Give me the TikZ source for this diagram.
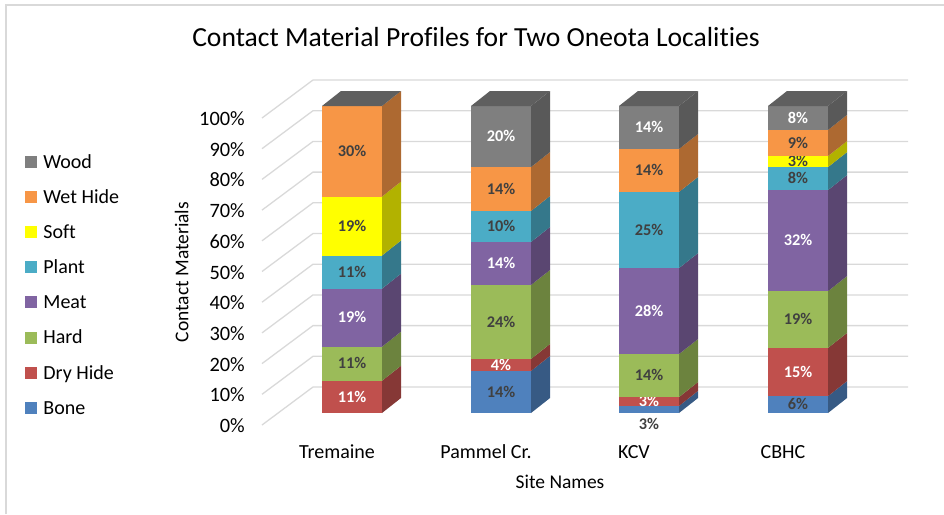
\documentclass[tikz,border=0pt]{standalone}
\usepackage{fontspec}
\setmainfont[Ligatures=NoCommon]{Carlito}
\usetikzlibrary{positioning}

\definecolor{bone}{HTML}{4F81BD}
\definecolor{dryhide}{HTML}{C0504D}
\definecolor{hard}{HTML}{9BBB59}
\definecolor{meat}{HTML}{8064A2}
\definecolor{plant}{HTML}{4BACC6}
\definecolor{soft}{HTML}{FFFF00}
\definecolor{wethide}{HTML}{F79646}
\definecolor{wood}{HTML}{7F7F7F}
\definecolor{gridgray}{HTML}{D9D9D9}
\definecolor{labeldark}{HTML}{404040}

\begin{document}
\begin{tikzpicture}[
        x=1pt, y=-1pt,
        captext/.style={inner sep=0pt, text depth=0pt},
        title/.style={captext, text height=17.7pt, font=\fontsize{27.6}{32}\selectfont},
        ticklabel/.style={captext, text height=13pt, anchor=east, font=\fontsize{20.4}{24}\selectfont},
        catlabel/.style={captext, text height=12.8pt, font=\fontsize{20}{24}\selectfont},
        axistitle/.style={captext, text height=12.5pt, font=\fontsize{19.5}{24}\selectfont},
        datalabel/.style={captext, text height=10.5pt, font=\bfseries\fontsize{16.3}{19}\selectfont},
        legbox/.style={rectangle, minimum size=12pt, inner sep=0pt},
        legtext/.style={captext, text height=12.8pt, font=\fontsize{20}{24}\selectfont},
        grid/.style={draw=gridgray, line width=1.3pt}
    ]
    \useasboundingbox (0,0) rectangle (944,514);

    % Frame
    \draw[gridgray, line width=1.5pt] (6,514) -- (6,5) -- (944,5);

    % Title
    \node[title] (chart_title) at (476,38) {Contact Material Profiles for Two Oneota Localities};

    % Gridlines and value axis
    \foreach \p in {0,10,...,100} {
        \draw[grid] (262,{425-3.07*\p}) -- (313,{387-3.07*\p}) -- (908,{387-3.07*\p});
        \node[ticklabel] (tick\p) at (245,{426-3.07*\p}) {\p\%};
    }

    % Stacked bars: left edge / from / to / colour / label / label colour
    \foreach \xl/\lo/\hi/\col/\lab/\tc [count=\i] in {
        322/0/10.5/dryhide/11\%/white,
        322/10.5/21.6/hard/11\%/labeldark,
        322/21.6/40.5/meat/19\%/white,
        322/40.5/51.3/plant/11\%/labeldark,
        322/51.3/70.5/soft/19\%/labeldark,
        322/70.5/100/wethide/30\%/labeldark,
        471/0/13.7/bone/14\%/labeldark,
        471/13.7/17.6/dryhide/4\%/white,
        471/17.6/41.7/hard/24\%/labeldark,
        471/41.7/55.7/meat/14\%/white,
        471/55.7/65.8/plant/10\%/labeldark,
        471/65.8/80.1/wethide/14\%/labeldark,
        471/80.1/100/wood/20\%/white,
        619/0/2.3/bone//labeldark,
        619/2.3/5.2/dryhide/3\%/white,
        619/5.2/19.2/hard/14\%/labeldark,
        619/19.2/47.2/meat/28\%/white,
        619/47.2/72.0/plant/25\%/labeldark,
        619/72.0/86.0/wethide/14\%/labeldark,
        619/86.0/100/wood/14\%/white,
        768/0/5.5/bone/6\%/labeldark,
        768/5.5/21.2/dryhide/15\%/white,
        768/21.2/39.7/hard/19\%/labeldark,
        768/39.7/72.6/meat/32\%/white,
        768/72.6/80.1/plant/8\%/labeldark,
        768/80.1/83.7/soft/3\%/labeldark,
        768/83.7/92.2/wethide/9\%/labeldark,
        768/92.2/100/wood/8\%/white} {
        \fill[\col] (\xl,{413-3.07*\lo}) rectangle (\xl+60,{413-3.07*\hi});
        \fill[\col!70!black] (\xl+60,{413-3.07*\lo}) -- (\xl+79,{398-3.07*\lo})
            -- (\xl+79,{398-3.07*\hi}) -- (\xl+60,{413-3.07*\hi}) -- cycle;
        \node[datalabel, text=\tc] (seg\i) at (\xl+30,{413-1.535*(\lo+\hi)}) {\lab};
    }

    % Bar tops
    \foreach \xl in {322,471,619,768}
        \fill[wood!75!black] (\xl,106) -- (\xl+60,106) -- (\xl+79,91) -- (\xl+19,91) -- cycle;

    % Label of the thin KCV bone segment
    \node[datalabel, text=labeldark] (kcv_bone) at (649,424) {3\%};

    % Category axis
    \node[catlabel] (cat_tremaine) at (337,452) {Tremaine};
    \node[catlabel] (cat_pammel) at (486,452) {Pammel Cr.};
    \node[catlabel] (cat_kcv) at (634,452) {KCV};
    \node[catlabel] (cat_cbhc) at (783,452) {CBHC};

    % Axis titles
    \node[axistitle] (x_title) at (560,482) {Site Names};
    \node[axistitle, rotate=90] (y_title) at (182,272) {Contact Materials};

    % Legend
    \foreach \name/\col [count=\i] in {Wood/wood, Wet Hide/wethide, Soft/soft, Plant/plant,
        Meat/meat, Hard/hard, Dry Hide/dryhide, Bone/bone} {
        \node[legbox, fill=\col] (key\i) at (31,{126.9+35.1*\i}) {};
        \node[legtext, right=6pt of key\i] (keytext\i) {\name};
    }

\end{tikzpicture}
\end{document}
